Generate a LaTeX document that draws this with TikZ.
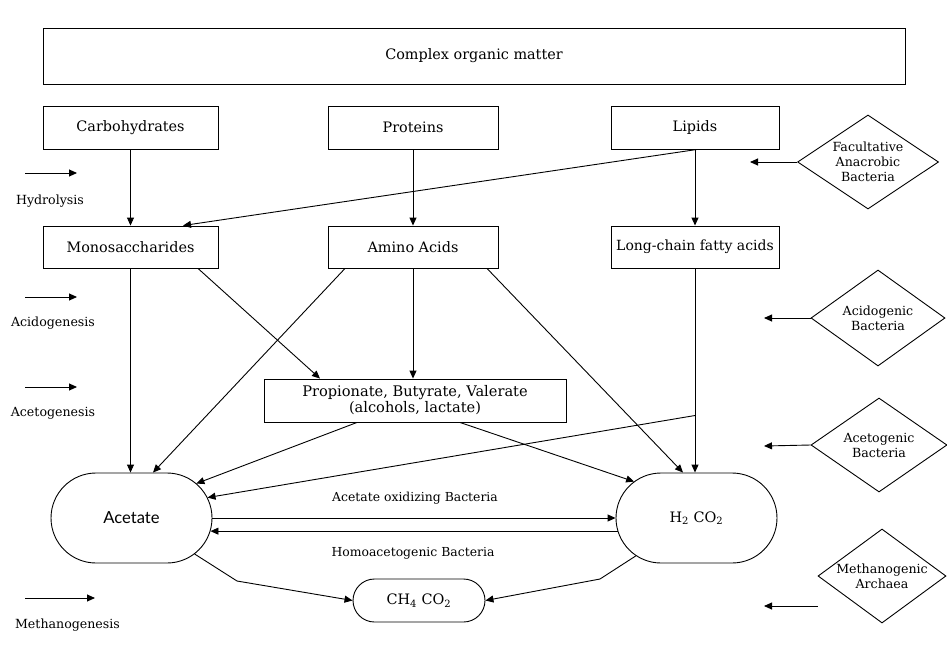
\documentclass[tikz,border=0pt]{standalone}
\usepackage{fontspec}
\setmainfont{DejaVu Serif}
\newfontfamily\latofont{Lato}
\usetikzlibrary{arrows.meta,shapes.geometric,calc}
\begin{document}
\begin{tikzpicture}[x=1pt,y=-1pt,
  line width=0.9pt,
  >={Triangle[length=8pt,width=7pt]},
  box/.style={draw,rectangle,inner sep=2pt,font=\fontsize{14.4}{17}\selectfont,align=center},
  pill/.style={draw,rectangle,rounded corners=#1,inner sep=2pt,font=\fontsize{14.4}{17}\selectfont},
  agent/.style={draw,diamond,inner sep=-9pt,font=\fontsize{12.6}{15}\selectfont,align=center},
  stage/.style={font=\fontsize{12.6}{15}\selectfont},
  edgelabel/.style={font=\fontsize{12.4}{15}\selectfont}]
\useasboundingbox (0,0) rectangle (947,648);

% substrates and intermediates
\node[box,minimum width=862pt,minimum height=56pt] (com) at (474,56) {Complex organic matter};
\node[box,minimum width=175pt,minimum height=43pt] (carb) at (130.5,127.5) {Carbohydrates};
\node[box,minimum width=170pt,minimum height=43pt] (prot) at (413,127.5) {Proteins};
\node[box,minimum width=168pt,minimum height=43pt] (lip) at (695,127.5) {Lipids};
\node[box,minimum width=175pt,minimum height=42pt] (mono) at (130.5,247) {Monosaccharides};
\node[box,minimum width=170pt,minimum height=42pt] (amino) at (413,247) {Amino Acids};
\node[box,minimum width=168pt,minimum height=42pt,font=\fontsize{14}{17}\selectfont] (lcfa) at (695,247) {Long-chain fatty acids};
\node[box,minimum width=302pt,minimum height=43pt,font=\fontsize{14.6}{16}\selectfont] (prop) at (415,400.5)
  {Propionate, Butyrate, Valerate\\(alcohols, lactate)};

% end products
\node[pill=45pt,minimum width=161pt,minimum height=90pt,font=\latofont\fontsize{16.6}{19}\selectfont] (acet) at (131.5,518) {Acetate};
\node[pill=45pt,minimum width=161pt,minimum height=90pt] (h2) at (696.5,518) {H\textsubscript{2} CO\textsubscript{2}};
\node[pill=21.5pt,minimum width=132pt,minimum height=43pt] (ch4) at (419,600.5) {CH\textsubscript{4} CO\textsubscript{2}};

% microbial groups
\node[agent,minimum width=141pt,minimum height=94pt] (fac) at (868,162) {Facultative\\Anacrobic\\Bacteria};
\node[agent,minimum width=134pt,minimum height=96pt] (acid) at (878,318) {Acidogenic\\Bacteria};
\node[agent,minimum width=136pt,minimum height=94pt] (acet-b) at (879,445) {Acetogenic\\Bacteria};
\node[agent,minimum width=128pt,minimum height=94pt] (meth) at (882,576) {Methanogenic\\Archaea};

% process stages on the left
\node[stage] (hyd) at (50,201) {Hydrolysis};
\node[stage] (acidg) at (53,323) {Acidogenesis};
\node[stage] (acetg) at (53,413) {Acetogenesis};
\node[stage] (methg) at (67.5,625) {Methanogenesis};
\coordinate (hydA) at (25,173);  \coordinate (hydB) at (77,173);
\coordinate (acidA) at (25,297); \coordinate (acidB) at (77,297);
\coordinate (acetA) at (25,387); \coordinate (acetB) at (77,387);
\coordinate (methA) at (25,598); \coordinate (methB) at (95,598);
\draw[->] (hydA) -- (hydB);
\draw[->] (acidA) -- (acidB);
\draw[->] (acetA) -- (acetB);
\draw[->] (methA) -- (methB);

% arrows issued by the microbial groups
\coordinate (facT) at (750,162);
\coordinate (acidT) at (764,318);
\coordinate (acetT) at (764,446);
\coordinate (methT) at (764,606);
\draw[->] (fac.west) -- (facT);
\draw[->] (acid.west) -- (acidT);
\draw[->] (acet-b.west) -- (acetT);
\draw[->] (meth.west |- methT) -- (methT);

% hydrolysis
\draw[->] (carb.south) -- (carb.south |- mono.north);
\draw[->] (prot.south) -- (prot.south |- amino.north);
\draw[->] (lip.south) -- (lip.south |- lcfa.north);
\draw[->] ([xshift=2pt]lip.south) -- ([xshift=52.5pt]mono.north);

% acidogenesis / acetogenesis
\coordinate (acetC) at ($(acet.east)+(-45pt,0pt)$);
\coordinate (h2C) at ($(h2.west)+(45pt,0pt)$);
\draw[->] (mono.south) -- (mono.south |- acet.north);
\draw[->] ([xshift=67.5pt]mono.south) -- ([xshift=-95pt]prop.north);
\draw[->] ([xshift=-68pt]amino.south) -- ([xshift=21.5pt]acet.north);
\draw[->] (amino.south) -- (amino.south |- prop.north);
\draw[->] ([xshift=74pt]amino.south) -- ([xshift=-13.5pt]h2.north);
\draw[->] ([xshift=-58pt]prop.south) -- ($(acetC)+(50:45pt)$);
\draw[->] ([xshift=45pt]prop.south) -- ($(h2C)+(126:45pt)$);
\draw[->] (lcfa.south) -- (lcfa.south |- h2.north);
\coordinate (br) at ($(lcfa.south)!0.5!(lcfa.south |- h2.north)+(0pt,-45pt)$);
\draw[->] (br) -- ($(acetC)+(27:45pt)$);

% exchange between acetate and hydrogen
\draw[->] (acet.east) -- (h2.west);
\draw[->] ($(h2C)+(197:45pt)$) -- ($(acetC)+(-17:45pt)$);
\node[edgelabel] (oxl) at (415,498) {Acetate oxidizing Bacteria};
\node[edgelabel] (homl) at (413,553) {Homoacetogenic Bacteria};

% methanogenesis
\draw[->] ($(acetC)+(-53:45pt)$) -- (237,581) -- (ch4.west);
\draw[->] ($(h2C)+(237:45pt)$) -- (600,579) -- (ch4.east);
\end{tikzpicture}
\end{document}
